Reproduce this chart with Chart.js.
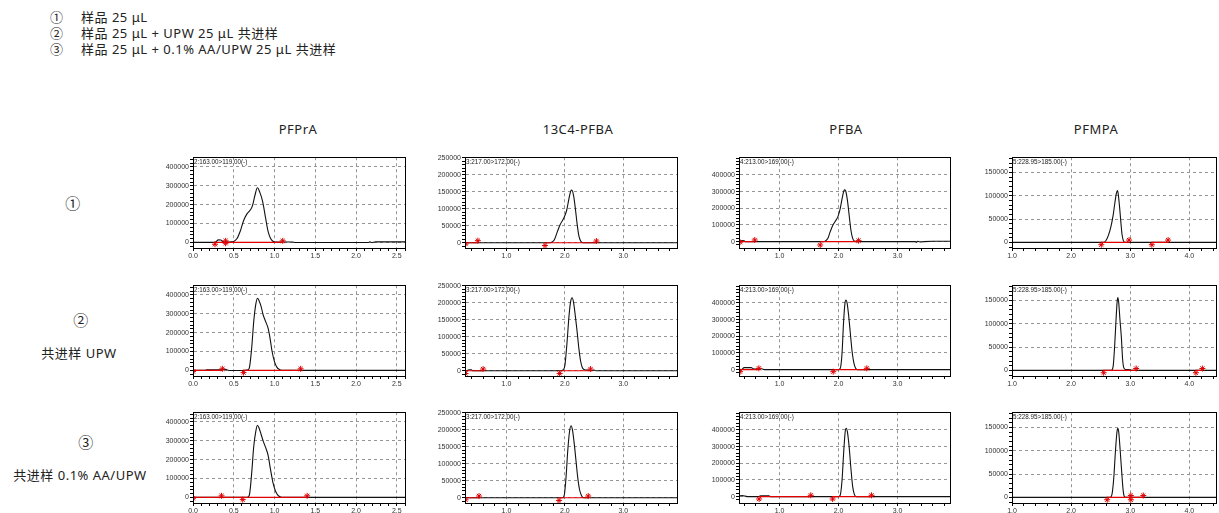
<!DOCTYPE html>
<html>
<head>
<meta charset="utf-8">
<script src="https://cdn.jsdelivr.net/npm/chart.js@4.4.1/dist/chart.umd.min.js"></script>
<style>
    body { margin: 0; width: 1219px; height: 513px; overflow: hidden; background: #fff; position: relative;
           font-family: "Noto Sans", "Noto Sans CJK SC", sans-serif; color: #222; }
    .t { position: absolute; white-space: nowrap; line-height: 16px; letter-spacing: 0.5px; }
    .c { transform: translate(-50%, -50%); }
    canvas { position: absolute; }
</style>
</head>
<body>
<script>
// ---- text ----
const legendMarks = ['①', '②', '③'];
const legendLines = ['样品 25 μL', '样品 25 μL + UPW 25 μL 共进样', '样品 25 μL + 0.1% AA/UPW 25 μL 共进样'];
const compounds = ['PFPrA', '13C4-PFBA', 'PFBA', 'PFMPA'];
const transitions = ['2:163.00>119.00(-)', '3:217.00>172.00(-)', '4:213.00>169.00(-)', '5:228.95>185.00(-)'];
const rowMarks = ['①', '②', '③'];
const rowNotes = ['', '共进样 UPW', '共进样 0.1% AA/UPW'];

// ---- axes (per compound column) ----
const xRanges = [[0, 2.6], [0.29, 3.92], [0.313, 3.89], [1.0, 4.45]];
const xMajors = [[0.0, 0.5, 1.0, 1.5, 2.0, 2.5], [1.0, 2.0, 3.0], [1.0, 2.0, 3.0], [1.0, 2.0, 3.0, 4.0]];
const xMinorSteps = [0.1, 0.2, 0.2, 0.2];
const yRanges = [[-30000, 452000], [-15500, 252000], [-38000, 506000], [-12000, 182500]];
const yMajors = [
    [0, 100000, 200000, 300000, 400000],
    [0, 50000, 100000, 150000, 200000, 250000],
    [0, 100000, 200000, 300000, 400000],
    [0, 50000, 100000, 150000]
];
const yMinorSteps = [20000, 10000, 20000, 10000];

// ---- chromatograms: [time (min), intensity] ----
const pfpraR1 = [[0,0],[0.25,0],[0.28,2000],[0.31,13000],[0.34,12000],[0.37,3000],[0.40,0],[0.45,2000],[0.50,5000],[0.54,20000],[0.58,60000],[0.62,115000],[0.66,150000],[0.70,170000],[0.73,195000],[0.76,250000],[0.79,290000],[0.82,265000],[0.855,215000],[0.89,130000],[0.92,60000],[0.95,22000],[0.98,6000],[1.01,1000],[1.05,2000],[1.22,2000],[1.25,-1000],[2.15,-1000],[2.17,3000],[2.19,-1000],[2.24,2500],[2.6,2500]];
const pfpraR2 = [[0,0],[0.15,0],[0.17,3000],[0.36,3000],[0.38,6000],[0.42,2000],[0.46,-1000],[0.62,-1000],[0.66,1000],[0.69,12000],[0.72,120000],[0.745,260000],[0.77,350000],[0.79,383000],[0.81,370000],[0.835,340000],[0.86,295000],[0.89,260000],[0.92,225000],[0.945,170000],[0.97,100000],[1.0,45000],[1.03,16000],[1.06,5000],[1.1,0],[2.6,0]];
const pfpraR3 = [[0,0],[0.66,0],[0.69,10000],[0.72,130000],[0.745,270000],[0.77,350000],[0.79,383000],[0.81,368000],[0.835,335000],[0.86,300000],[0.89,265000],[0.92,225000],[0.95,150000],[0.98,80000],[1.01,35000],[1.04,12000],[1.07,3000],[1.1,0],[2.6,0]];
const c13pfbaR1 = [[0.29,0],[1.75,0],[1.78,2000],[1.82,9000],[1.87,32000],[1.92,54000],[1.98,72000],[2.03,95000],[2.07,130000],[2.10,152000],[2.12,155000],[2.15,138000],[2.18,100000],[2.21,55000],[2.24,20000],[2.27,5000],[2.31,0],[3.92,0]];
const c13pfbaR2 = [[0.29,-3000],[0.32,0],[0.36,3000],[0.40,3000],[0.42,0],[1.93,0],[1.97,3000],[2.0,15000],[2.04,90000],[2.07,160000],[2.10,205000],[2.125,215000],[2.15,200000],[2.18,160000],[2.21,115000],[2.24,65000],[2.27,28000],[2.30,9000],[2.34,3000],[2.40,2000],[2.45,0],[2.5,2000],[2.53,0],[3.92,0]];
const c13pfbaR3 = [[0.29,0],[1.96,0],[1.99,8000],[2.02,60000],[2.05,140000],[2.08,195000],[2.105,212000],[2.13,200000],[2.16,160000],[2.19,110000],[2.22,60000],[2.25,25000],[2.28,8000],[2.31,1000],[2.35,0],[3.92,0]];
const pfbaR1 = [[0.313,0],[0.33,4000],[0.36,6000],[0.40,5000],[0.42,0],[1.74,0],[1.78,4000],[1.82,20000],[1.86,60000],[1.90,95000],[1.95,125000],[1.99,150000],[2.03,200000],[2.07,275000],[2.10,310000],[2.12,305000],[2.15,250000],[2.18,160000],[2.21,70000],[2.24,20000],[2.27,3000],[2.30,0],[3.30,0],[3.32,-4000],[3.34,2000],[3.40,-2000],[3.45,0],[3.6,2000],[3.89,2000]];
const pfbaR2 = [[0.313,0],[0.33,-3000],[0.36,0],[0.40,12000],[0.52,12000],[0.55,6000],[0.62,3000],[0.70,5000],[0.74,0],[2.00,0],[2.03,8000],[2.06,100000],[2.085,280000],[2.11,400000],[2.125,417000],[2.145,400000],[2.17,330000],[2.20,220000],[2.23,110000],[2.26,40000],[2.29,8000],[2.32,0],[3.89,0]];
const pfbaR3 = [[0.313,5000],[0.37,6000],[0.42,3000],[0.46,0],[0.64,0],[0.68,5000],[0.82,5000],[0.85,0],[2.00,0],[2.03,10000],[2.06,100000],[2.09,280000],[2.115,395000],[2.13,410000],[2.15,390000],[2.18,300000],[2.21,170000],[2.24,60000],[2.27,12000],[2.30,0],[3.89,0]];
const pfmpaR1 = [[1.0,0],[2.55,0],[2.59,4000],[2.63,15000],[2.67,32000],[2.71,58000],[2.74,85000],[2.765,105000],[2.785,111000],[2.80,100000],[2.82,75000],[2.84,45000],[2.86,18000],[2.88,5000],[2.91,0],[4.45,0]];
const pfmpaR2 = [[1.0,0],[2.68,0],[2.71,8000],[2.735,50000],[2.76,110000],[2.78,150000],[2.79,156000],[2.805,145000],[2.825,110000],[2.85,70000],[2.87,25000],[2.89,6000],[2.92,2000],[3.0,1500],[3.02,0],[4.45,0]];
const pfmpaR3 = [[1.0,0],[2.66,0],[2.69,6000],[2.72,40000],[2.75,100000],[2.775,140000],[2.79,148000],[2.805,140000],[2.83,100000],[2.855,55000],[2.88,15000],[2.90,2000],[2.93,0],[4.45,0]];

// ---- integration baselines [start, end] and peak marks [time, intensity] ----
const pfpraR1Base = [[0.27, 1.10]];
const pfpraR2Base = [[0.0, 0.36], [0.62, 1.32]];
const pfpraR3Base = [[0.0, 1.40]];
const c13pfbaR1Base = [[0.29, 0.51], [1.66, 2.54]];
const c13pfbaR2Base = [[0.30, 0.60], [1.91, 2.44]];
const c13pfbaR3Base = [[0.30, 0.53], [1.90, 2.40]];
const pfbaR1Base = [[0.313, 0.58], [1.69, 2.34]];
const pfbaR2Base = [[0.33, 0.65], [1.91, 2.48]];
const pfbaR3Base = [[0.654, 1.53], [1.90, 2.56]];
const pfmpaR1Base = [[2.51, 2.98], [3.365, 3.64]];
const pfmpaR2Base = [[2.55, 3.10], [4.11, 4.22]];
const pfmpaR3Base = [[2.61, 3.22]];

const pfpraR1Marks = [[0.27,-10000],[0.40,-5000],[0.40,8000],[1.10,8000]];
const pfpraR2Marks = [[0.0,-6000],[0.36,8000],[0.62,-12000],[1.32,8000]];
const pfpraR3Marks = [[0.0,-5000],[0.35,8000],[0.61,-12000],[1.40,8000]];
const c13pfbaR1Marks = [[0.30,-4000],[0.51,6000],[1.66,-8000],[2.54,5000]];
const c13pfbaR2Marks = [[0.30,-8000],[0.60,5000],[1.91,-8000],[2.44,5000]];
const c13pfbaR3Marks = [[0.30,-6000],[0.53,5000],[1.90,-8000],[2.40,5000]];
const pfbaR1Marks = [[0.33,-3000],[0.58,10000],[1.69,-20000],[2.34,6000]];
const pfbaR2Marks = [[0.33,-12000],[0.65,8000],[1.91,-12000],[2.48,8000]];
const pfbaR3Marks = [[0.654,-14000],[1.53,8000],[1.90,-14000],[2.56,8000]];
const pfmpaR1Marks = [[2.51,-5000],[2.98,5000],[3.365,-5000],[3.64,5000]];
const pfmpaR2Marks = [[2.55,-5000],[3.10,4000],[4.11,-5000],[4.22,4000]];
const pfmpaR3Marks = [[2.61,-5000],[3.01,-5000],[3.01,4000],[3.22,4000]];

const traces = [
    [pfpraR1, c13pfbaR1, pfbaR1, pfmpaR1],
    [pfpraR2, c13pfbaR2, pfbaR2, pfmpaR2],
    [pfpraR3, c13pfbaR3, pfbaR3, pfmpaR3]
];
const baselines = [
    [pfpraR1Base, c13pfbaR1Base, pfbaR1Base, pfmpaR1Base],
    [pfpraR2Base, c13pfbaR2Base, pfbaR2Base, pfmpaR2Base],
    [pfpraR3Base, c13pfbaR3Base, pfbaR3Base, pfmpaR3Base]
];
const marks = [
    [pfpraR1Marks, c13pfbaR1Marks, pfbaR1Marks, pfmpaR1Marks],
    [pfpraR2Marks, c13pfbaR2Marks, pfbaR2Marks, pfmpaR2Marks],
    [pfpraR3Marks, c13pfbaR3Marks, pfbaR3Marks, pfmpaR3Marks]
];

// ---- layout ----
const colLeft = [193, 465, 739, 1012];
const colRight = [407, 679, 952, 1218];
const rowTop = [155, 283, 410];
const plotH = 93;
const titleX = [298, 578, 846, 1096];
const YW = 32, XH = 16, PAD = 3;

function addText(txt, x, y, size, center) {
    const d = document.createElement('div');
    d.className = 't' + (center ? ' c' : '');
    d.textContent = txt;
    d.style.left = x + 'px';
    d.style.top = y + 'px';
    d.style.fontSize = size + 'px';
    document.body.appendChild(d);
}

legendLines.forEach((s, i) => {
    addText(legendMarks[i], 50, 9 + i * 16, 13);
    addText(s, 81, 9 + i * 16, 13);
});
compounds.forEach((s, i) => addText(s, titleX[i], 129, 13, true));
addText(rowMarks[0], 73, 203, 15, true);
addText(rowMarks[1], 81, 320, 15, true);
addText(rowNotes[1], 79, 353, 13, true);
addText(rowMarks[2], 86, 442, 15, true);
addText(rowNotes[2], 80, 475, 13, true);

function buildTicks(min, max, step, majors) {
    const out = [];
    for (let i = Math.ceil(min / step - 1e-9); i * step <= max + 1e-9; i++) {
        const v = +(i * step).toFixed(6);
        out.push({ value: v, isMajor: majors.some(m => Math.abs(m - v) < step / 10) });
    }
    return out;
}

const frame = {
    id: 'frame',
    afterDraw(chart, args, opts) {
        const { ctx, chartArea: a } = chart;
        ctx.save();
        ctx.strokeStyle = '#000';
        ctx.lineWidth = 1;
        ctx.strokeRect(Math.round(a.left) + 0.5, Math.round(a.top) + 0.5, Math.round(a.right - a.left), Math.round(a.bottom - a.top));
        ctx.fillStyle = '#222';
        ctx.font = '6.3px "Liberation Sans"';
        ctx.textBaseline = 'middle';
        ctx.fillText(opts.label, a.left + 1, a.top + 5);
        ctx.restore();
    }
};

Chart.defaults.font.family = '"Liberation Sans", sans-serif';

for (let r = 0; r < 3; r++) {
    for (let c = 0; c < 4; c++) {
        const w = colRight[c] - colLeft[c];
        const cv = document.createElement('canvas');
        cv.width = w + YW + PAD;
        cv.height = plotH + PAD + XH;
        cv.style.left = (colLeft[c] - YW) + 'px';
        cv.style.top = (rowTop[r] - PAD) + 'px';
        document.body.appendChild(cv);

        const baseData = [];
        baselines[r][c].forEach(([a, b]) => {
            baseData.push({ x: a, y: 0 }, { x: b, y: 0 }, { x: b, y: null });
        });

        const gridColor = ctx => (ctx.tick && ctx.tick.isMajor) ? '#959595' : 'rgba(0,0,0,0)';

        new Chart(cv, {
            type: 'line',
            data: {
                datasets: [
                    {
                        data: marks[r][c].map(([x, y]) => ({ x, y })),
                        showLine: false,
                        pointStyle: 'star',
                        pointRadius: 3,
                        pointBorderColor: '#e00000',
                        pointBorderWidth: 1,
                        order: 0
                    },
                    {
                        data: baseData,
                        borderColor: '#e00000',
                        borderWidth: 1.2,
                        pointRadius: 0,
                        spanGaps: false,
                        order: 1
                    },
                    {
                        data: traces[r][c].map(([x, y]) => ({ x, y })),
                        borderColor: '#111',
                        borderWidth: 1.1,
                        pointRadius: 0,
                        cubicInterpolationMode: 'monotone',
                        order: 2
                    }
                ]
            },
            options: {
                responsive: false,
                animation: false,
                devicePixelRatio: 1,
                events: [],
                layout: { padding: { top: PAD, right: PAD, left: 0, bottom: 0 } },
                plugins: {
                    legend: { display: false },
                    tooltip: { enabled: false },
                    frame: { label: transitions[c] }
                },
                scales: {
                    x: {
                        type: 'linear',
                        min: xRanges[c][0],
                        max: xRanges[c][1],
                        afterBuildTicks: s => { s.ticks = buildTicks(xRanges[c][0], xRanges[c][1], xMinorSteps[c], xMajors[c]); },
                        afterFit: s => { s.height = XH; },
                        grid: { color: gridColor, tickColor: '#000', tickLength: 3, lineWidth: 1 },
                        border: { color: '#000', width: 1, dash: [3, 3] },
                        ticks: {
                            autoSkip: false,
                            maxRotation: 0,
                            padding: 1,
                            color: '#333',
                            font: { size: 7 },
                            callback: (v, i, t) => t[i].isMajor ? v.toFixed(1) : ''
                        }
                    },
                    y: {
                        type: 'linear',
                        min: yRanges[c][0],
                        max: yRanges[c][1],
                        afterBuildTicks: s => { s.ticks = buildTicks(yRanges[c][0], yRanges[c][1], yMinorSteps[c], yMajors[c]); },
                        afterFit: s => { s.width = YW; },
                        grid: { color: gridColor, tickColor: '#000', tickLength: 3, lineWidth: 1 },
                        border: { color: '#000', width: 1, dash: [3, 3] },
                        ticks: {
                            autoSkip: false,
                            padding: 1,
                            color: '#333',
                            font: { size: 7 },
                            callback: (v, i, t) => t[i].isMajor ? String(Math.round(v)) : ''
                        }
                    }
                }
            },
            plugins: [frame]
        });
    }
}
</script>
</body>
</html>
